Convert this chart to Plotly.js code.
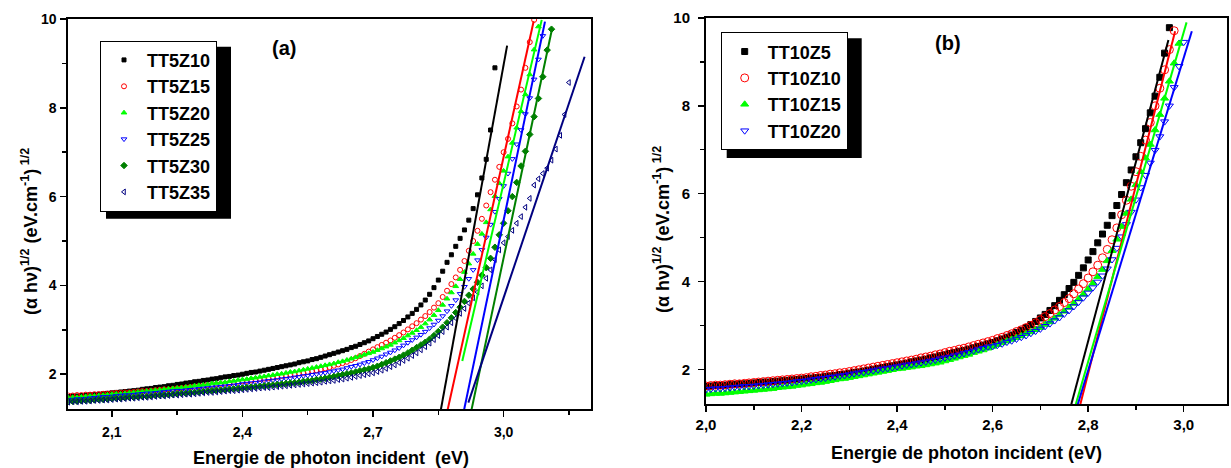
<!DOCTYPE html>
<html><head><meta charset="utf-8">
<script src="https://cdn.plot.ly/plotly-3.0.1.min.js"></script>
<style>html,body{margin:0;padding:0;background:#fff}#chart{width:1231px;height:468px}</style>
</head><body><div id="chart"></div>
<script>
// ---------- DATA ----------
const energyA = [
2.00,2.01,2.02,2.03,2.04,2.05,2.06,2.07,2.08,2.09,
2.10,2.11,2.12,2.13,2.14,2.15,2.16,2.17,2.18,2.19,
2.20,2.21,2.22,2.23,2.24,2.25,2.26,2.27,2.28,2.29,
2.30,2.31,2.32,2.33,2.34,2.35,2.36,2.37,2.38,2.39,
2.40,2.41,2.42,2.43,2.44,2.45,2.46,2.47,2.48,2.49,
2.50,2.51,2.52,2.53,2.54,2.55,2.56,2.57,2.58,2.59,
2.60,2.61,2.62,2.63,2.64,2.65,2.66,2.67,2.68,2.69,
2.70,2.71,2.72,2.73,2.74,2.75,2.76,2.77,2.78,2.79,
2.80,2.81,2.82,2.83,2.84,2.85,2.86,2.87,2.88,2.89,
2.90,2.91,2.92,2.93,2.94,2.95,2.96,2.97,2.98,2.99,
3.00,3.01,3.02,3.03,3.04,3.05,3.06,3.07,3.08,3.09,
3.10,3.11,3.12,3.13,3.14,3.15];

const energyB = [
2.00,2.01,2.02,2.03,2.04,2.05,2.06,2.07,2.08,2.09,
2.10,2.11,2.12,2.13,2.14,2.15,2.16,2.17,2.18,2.19,
2.20,2.21,2.22,2.23,2.24,2.25,2.26,2.27,2.28,2.29,
2.30,2.31,2.32,2.33,2.34,2.35,2.36,2.37,2.38,2.39,
2.40,2.41,2.42,2.43,2.44,2.45,2.46,2.47,2.48,2.49,
2.50,2.51,2.52,2.53,2.54,2.55,2.56,2.57,2.58,2.59,
2.60,2.61,2.62,2.63,2.64,2.65,2.66,2.67,2.68,2.69,
2.70,2.71,2.72,2.73,2.74,2.75,2.76,2.77,2.78,2.79,
2.80,2.81,2.82,2.83,2.84,2.85,2.86,2.87,2.88,2.89,
2.90,2.91,2.92,2.93,2.94,2.95,2.96,2.97,2.98,2.99,
3.00];

// panel (a) series
const y_TT5Z10 = [
1.50,1.51,1.51,1.52,1.53,1.54,1.54,1.55,1.56,1.57,
1.58,1.59,1.60,1.61,1.62,1.63,1.64,1.66,1.67,1.68,
1.70,1.71,1.72,1.74,1.75,1.77,1.78,1.80,1.81,1.83,
1.84,1.86,1.87,1.89,1.90,1.92,1.94,1.95,1.97,1.98,
2.00,2.02,2.04,2.05,2.07,2.09,2.11,2.13,2.15,2.17,
2.19,2.21,2.23,2.26,2.28,2.30,2.33,2.35,2.38,2.41,
2.44,2.47,2.50,2.53,2.56,2.60,2.63,2.67,2.71,2.75,
2.80,2.85,2.90,2.95,3.01,3.07,3.14,3.21,3.29,3.37,
3.46,3.56,3.67,3.80,3.95,4.12,4.32,4.52,4.69,4.88,
5.06,5.25,5.47,5.73,6.04,6.42,6.84,7.50,8.90];
const y_TT5Z15 = [
1.52,1.52,1.53,1.53,1.54,1.54,1.55,1.55,1.56,1.56,
1.57,1.58,1.58,1.59,1.59,1.60,1.61,1.62,1.62,1.63,
1.64,1.65,1.66,1.66,1.67,1.68,1.69,1.70,1.71,1.72,
1.73,1.74,1.75,1.76,1.77,1.78,1.79,1.80,1.82,1.83,
1.84,1.85,1.86,1.88,1.89,1.90,1.91,1.93,1.94,1.96,
1.97,1.99,2.00,2.02,2.03,2.05,2.07,2.09,2.11,2.13,
2.16,2.19,2.22,2.25,2.28,2.32,2.36,2.41,2.46,2.51,
2.56,2.61,2.66,2.71,2.76,2.82,2.88,2.94,3.01,3.08,
3.15,3.23,3.31,3.40,3.50,3.60,3.74,3.88,4.03,4.18,
4.35,4.55,4.78,5.00,5.23,5.50,5.80,6.10,6.38,6.67,
7.00,7.30,7.65,8.03,8.41,8.90,9.48,9.98];
const y_TT5Z20 = [
1.47,1.48,1.48,1.49,1.50,1.51,1.51,1.52,1.53,1.54,
1.55,1.56,1.56,1.57,1.58,1.59,1.60,1.61,1.62,1.63,
1.64,1.65,1.66,1.67,1.68,1.69,1.70,1.71,1.72,1.74,
1.75,1.76,1.77,1.79,1.80,1.81,1.82,1.84,1.85,1.87,
1.88,1.89,1.91,1.92,1.94,1.95,1.97,1.98,2.00,2.01,
2.03,2.05,2.06,2.08,2.10,2.12,2.14,2.16,2.18,2.20,
2.22,2.24,2.27,2.29,2.32,2.35,2.38,2.41,2.44,2.47,
2.50,2.54,2.58,2.62,2.66,2.71,2.76,2.81,2.87,2.93,
2.99,3.06,3.14,3.23,3.33,3.44,3.56,3.70,3.84,3.98,
4.14,4.30,4.49,4.71,4.93,5.16,5.42,5.71,6.01,6.30,
6.58,6.90,7.21,7.55,7.92,8.30,8.75,9.31,9.83];
const y_TT5Z25 = [
1.42,1.43,1.44,1.44,1.45,1.46,1.47,1.48,1.49,1.49,
1.50,1.51,1.52,1.53,1.53,1.54,1.55,1.56,1.57,1.57,
1.58,1.59,1.60,1.61,1.62,1.63,1.63,1.64,1.65,1.66,
1.67,1.68,1.69,1.70,1.71,1.72,1.73,1.74,1.75,1.76,
1.78,1.79,1.80,1.81,1.82,1.84,1.85,1.86,1.87,1.89,
1.90,1.91,1.93,1.94,1.96,1.97,1.99,2.00,2.02,2.03,
2.05,2.07,2.09,2.11,2.14,2.17,2.19,2.22,2.25,2.28,
2.32,2.36,2.40,2.45,2.49,2.54,2.59,2.65,2.71,2.77,
2.83,2.89,2.96,3.04,3.12,3.21,3.31,3.42,3.54,3.67,
3.81,3.97,4.15,4.35,4.57,4.80,5.08,5.37,5.66,5.95,
6.24,6.52,6.85,7.18,7.50,7.86,8.22,8.64,9.09,9.62];
const y_TT5Z30 = [
1.38,1.39,1.39,1.40,1.41,1.41,1.42,1.43,1.43,1.44,
1.45,1.46,1.46,1.47,1.48,1.48,1.49,1.50,1.50,1.51,
1.52,1.53,1.53,1.54,1.55,1.56,1.57,1.57,1.58,1.59,
1.60,1.61,1.62,1.63,1.64,1.64,1.65,1.66,1.67,1.68,
1.69,1.70,1.71,1.72,1.73,1.74,1.75,1.76,1.77,1.78,
1.79,1.80,1.81,1.82,1.84,1.85,1.86,1.88,1.89,1.91,
1.93,1.95,1.97,1.99,2.01,2.03,2.05,2.08,2.10,2.12,
2.15,2.18,2.22,2.26,2.30,2.34,2.38,2.43,2.48,2.54,
2.60,2.66,2.72,2.79,2.87,2.96,3.06,3.16,3.27,3.39,
3.51,3.64,3.78,3.92,4.07,4.23,4.40,4.61,4.86,5.14,
5.40,5.68,6.00,6.32,6.69,7.02,7.40,7.80,8.21,8.70,
9.30,9.77];
const y_TT5Z35 = [
1.37,1.38,1.38,1.39,1.39,1.40,1.41,1.41,1.42,1.42,
1.43,1.44,1.44,1.45,1.46,1.46,1.47,1.48,1.48,1.49,
1.50,1.51,1.51,1.52,1.53,1.53,1.54,1.55,1.55,1.56,
1.57,1.58,1.59,1.59,1.60,1.61,1.62,1.63,1.63,1.64,
1.65,1.66,1.67,1.68,1.69,1.70,1.70,1.71,1.72,1.73,
1.74,1.75,1.76,1.77,1.78,1.79,1.80,1.81,1.82,1.84,
1.85,1.86,1.88,1.89,1.91,1.93,1.95,1.97,1.99,2.01,
2.03,2.06,2.09,2.13,2.17,2.21,2.26,2.31,2.36,2.42,
2.48,2.55,2.62,2.70,2.78,2.87,2.96,3.06,3.16,3.26,
3.37,3.48,3.60,3.72,3.85,3.99,4.16,4.35,4.58,4.80,
4.96,5.10,5.24,5.40,5.55,5.76,5.96,6.26,6.40,6.52,
6.64,6.82,7.07,7.38,7.85,8.57];

// panel (b) series
const y_TT10Z5 = [
1.61,1.62,1.63,1.63,1.64,1.65,1.66,1.67,1.67,1.68,
1.69,1.70,1.71,1.71,1.72,1.73,1.74,1.75,1.76,1.77,
1.78,1.79,1.80,1.81,1.82,1.84,1.85,1.86,1.88,1.89,
1.91,1.93,1.94,1.96,1.98,2.00,2.02,2.04,2.06,2.08,
2.10,2.12,2.14,2.17,2.19,2.21,2.23,2.26,2.28,2.31,
2.33,2.36,2.38,2.41,2.43,2.46,2.49,2.52,2.55,2.58,
2.61,2.65,2.69,2.73,2.78,2.84,2.89,2.95,3.02,3.09,
3.17,3.25,3.34,3.45,3.57,3.70,3.84,3.98,4.14,4.31,
4.49,4.68,4.88,5.08,5.28,5.50,5.73,5.98,6.25,6.54,
6.84,7.16,7.48,7.84,8.22,8.65,9.20,9.78];
const y_TT10Z10 = [
1.62,1.63,1.64,1.64,1.65,1.66,1.67,1.67,1.68,1.69,
1.70,1.71,1.72,1.73,1.74,1.75,1.76,1.77,1.78,1.79,
1.80,1.81,1.83,1.84,1.86,1.87,1.89,1.90,1.92,1.93,
1.95,1.97,1.99,2.01,2.03,2.05,2.07,2.09,2.11,2.13,
2.15,2.17,2.19,2.21,2.23,2.26,2.28,2.30,2.33,2.35,
2.38,2.41,2.43,2.46,2.48,2.51,2.54,2.57,2.60,2.63,
2.66,2.70,2.73,2.77,2.81,2.86,2.90,2.95,3.00,3.06,
3.13,3.20,3.27,3.35,3.43,3.52,3.61,3.72,3.83,3.95,
4.08,4.22,4.37,4.54,4.73,4.95,5.22,5.52,5.85,6.17,
6.50,6.85,7.22,7.62,8.00,8.40,8.82,9.28,9.71];
const y_TT10Z15 = [
1.43,1.44,1.45,1.45,1.46,1.47,1.48,1.49,1.50,1.51,
1.52,1.53,1.54,1.55,1.56,1.58,1.59,1.60,1.61,1.63,
1.64,1.66,1.67,1.69,1.70,1.72,1.74,1.76,1.78,1.79,
1.81,1.83,1.85,1.87,1.89,1.91,1.93,1.95,1.97,1.99,
2.01,2.02,2.04,2.05,2.07,2.08,2.10,2.12,2.14,2.16,
2.19,2.22,2.25,2.28,2.31,2.34,2.38,2.41,2.44,2.48,
2.52,2.56,2.60,2.64,2.68,2.72,2.76,2.81,2.85,2.90,
2.95,3.02,3.08,3.16,3.24,3.32,3.41,3.50,3.60,3.71,
3.83,3.96,4.11,4.27,4.47,4.70,4.96,5.25,5.55,5.87,
6.20,6.50,6.81,7.12,7.45,7.80,8.17,8.56,8.97,9.42];
const y_TT10Z20 = [
1.54,1.55,1.56,1.56,1.57,1.58,1.59,1.60,1.61,1.61,
1.62,1.63,1.64,1.65,1.66,1.67,1.68,1.69,1.70,1.72,
1.73,1.74,1.76,1.77,1.79,1.80,1.82,1.83,1.85,1.86,
1.88,1.90,1.92,1.93,1.95,1.97,1.99,2.01,2.02,2.04,
2.06,2.08,2.10,2.11,2.13,2.15,2.17,2.19,2.21,2.24,
2.26,2.28,2.31,2.33,2.36,2.39,2.42,2.45,2.48,2.51,
2.52,2.55,2.58,2.62,2.65,2.69,2.73,2.77,2.82,2.87,
2.92,2.98,3.04,3.11,3.18,3.26,3.34,3.43,3.53,3.63,
3.74,3.86,3.99,4.13,4.29,4.50,4.76,5.02,5.30,5.58,
5.86,6.14,6.42,6.70,6.99,7.30,7.64,8.00,8.42,8.90,
9.45];

// linear fit segments (end points)
const fitE_TT5Z10 = [2.853, 3.008], fitY_TT5Z10 = [1.05, 9.40];
const fitE_TT5Z15 = [2.868, 3.069], fitY_TT5Z15 = [1.05, 9.95];
const fitE_TT5Z20 = [2.905, 3.0875], fitY_TT5Z20 = [2.30, 9.98];
const fitE_TT5Z25 = [2.906, 3.095], fitY_TT5Z25 = [1.05, 9.94];
const fitE_TT5Z30 = [2.923, 3.111], fitY_TT5Z30 = [1.05, 9.77];
const fitE_TT5Z35 = [2.919, 3.186], fitY_TT5Z35 = [1.36, 9.15];
const fitE_TT10Z5  = [2.761, 2.968], fitY_TT10Z5  = [1.05, 9.50];
const fitE_TT10Z10 = [2.780, 2.982], fitY_TT10Z10 = [1.05, 9.70];
const fitE_TT10Z15 = [2.770, 3.006], fitY_TT10Z15 = [1.05, 9.90];
const fitE_TT10Z20 = [2.774, 3.017], fitY_TT10Z20 = [1.05, 9.70];

const namesA = ['TT5Z10','TT5Z15','TT5Z20','TT5Z25','TT5Z30','TT5Z35'];
const namesB = ['TT10Z5','TT10Z10','TT10Z15','TT10Z20'];
const xTicksA = [2.1, 2.4, 2.7, 3.0];
const xTicksB = [2.0, 2.2, 2.4, 2.6, 2.8, 3.0];
const yTicks = [2, 4, 6, 8, 10];

// ---------- STYLE ----------
const FONT = 'Liberation Sans, Arial, sans-serif';
const W = 1231, H = 468;
const seriesA = [
  {y: y_TT5Z10, fx: fitE_TT5Z10, fy: fitY_TT5Z10, color: '#000000', symbol: 'square', size: 4},
  {y: y_TT5Z15, fx: fitE_TT5Z15, fy: fitY_TT5Z15, color: '#ff0000', symbol: 'circle-open', size: 5},
  {y: y_TT5Z20, fx: fitE_TT5Z20, fy: fitY_TT5Z20, color: '#00ff00', symbol: 'triangle-up', size: 5},
  {y: y_TT5Z25, fx: fitE_TT5Z25, fy: fitY_TT5Z25, color: '#0000ff', symbol: 'triangle-down-open', size: 5},
  {y: y_TT5Z30, fx: fitE_TT5Z30, fy: fitY_TT5Z30, color: '#008000', symbol: 'diamond', size: 5},
  {y: y_TT5Z35, fx: fitE_TT5Z35, fy: fitY_TT5Z35, color: '#000080', symbol: 'triangle-left-open', size: 5}
];
const seriesB = [
  {y: y_TT10Z5,  fx: fitE_TT10Z5,  fy: fitY_TT10Z5,  color: '#000000', symbol: 'square', size: 6},
  {y: y_TT10Z10, fx: fitE_TT10Z10, fy: fitY_TT10Z10, color: '#ff0000', symbol: 'circle-open', size: 8},
  {y: y_TT10Z15, fx: fitE_TT10Z15, fy: fitY_TT10Z15, color: '#00ff00', symbol: 'triangle-up', size: 7},
  {y: y_TT10Z20, fx: fitE_TT10Z20, fy: fitY_TT10Z20, color: '#0000ff', symbol: 'triangle-down-open', size: 7}
];

const traces = [];
function addPanel(series, names, energy, xa, ya, leg) {
  series.forEach((s, i) => {
    traces.push({
      type: 'scatter', mode: 'markers', name: names[i],
      x: energy.slice(0, s.y.length), y: s.y, xaxis: xa, yaxis: ya, legend: leg,
      marker: {symbol: s.symbol, size: s.size, color: s.color, line: {color: s.color, width: 1}},
      hoverinfo: 'skip'
    });
  });
  series.forEach((s, i) => {
    traces.push({
      type: 'scatter', mode: 'lines', name: names[i] + ' fit', showlegend: false,
      x: s.fx, y: s.fy, xaxis: xa, yaxis: ya,
      line: {color: s.color, width: 2}, hoverinfo: 'skip'
    });
  });
}
addPanel(seriesA, namesA, energyA, 'x', 'y', 'legend');
addPanel(seriesB, namesB, energyB, 'x2', 'y2', 'legend2');

function tf(size) { return {family: FONT, size: size, color: '#000', weight: 'bold'}; }
function mainX(domain, range, tickvals, minorDt, minor0, fsize, standoff) {
  return {domain, range, showline: true, linewidth: 2, linecolor: '#000', mirror: true,
    showgrid: false, zeroline: false, ticks: 'outside', ticklen: 6, tickwidth: 1.5, tickcolor: '#000',
    tickvals, tickformat: '.1f', tickfont: tf(fsize), ticklabelstandoff: standoff, fixedrange: true,
    minor: {ticks: 'outside', ticklen: 4, tickwidth: 1.5, tickcolor: '#000', dtick: minorDt, tick0: minor0, showgrid: false}};
}
function mainY(domain, fsize, standoff) {
  return {domain, range: [1.21, 10], showline: true, linewidth: 2, linecolor: '#000', mirror: true,
    showgrid: false, zeroline: false, ticks: 'outside', ticklen: 6, tickwidth: 1.5, tickcolor: '#000',
    tickvals: yTicks, tickfont: tf(fsize), ticklabelstandoff: standoff, fixedrange: true,
    minor: {ticks: 'outside', ticklen: 4, tickwidth: 1.5, tickcolor: '#000', dtick: 1, tick0: 0, showgrid: false}};
}
function overX(over, anchor, range, tickvals, minorDt, minor0) {
  return {overlaying: over, anchor, side: 'top', range, showline: false, showgrid: false, zeroline: false,
    ticks: 'inside', ticklen: 6, tickwidth: 1.5, tickcolor: '#000', tickvals, showticklabels: false, fixedrange: true,
    minor: {ticks: 'inside', ticklen: 4, tickwidth: 1.5, tickcolor: '#000', dtick: minorDt, tick0: minor0, showgrid: false}};
}
function overY(over, anchor) {
  return {overlaying: over, anchor, side: 'right', range: [1.21, 10], showline: false, showgrid: false, zeroline: false,
    ticks: 'inside', ticklen: 6, tickwidth: 1.5, tickcolor: '#000', tickvals: yTicks, showticklabels: false, fixedrange: true,
    minor: {ticks: 'inside', ticklen: 4, tickwidth: 1.5, tickcolor: '#000', dtick: 1, tick0: 0, showgrid: false}};
}

const xa = mainX([68.3 / W, 590.7 / W], [2.0, 3.2], xTicksA, 0.15, 2.1, 14, 3); xa.anchor = 'y';
const ya = mainY([(H - 409.3) / H, (H - 19) / H], 14, 1); ya.anchor = 'x';
const xb = mainX([706 / W, 1226.7 / W], [2.0, 3.09], xTicksB, 0.1, 2.0, 15, 0); xb.anchor = 'y2';
const yb = mainY([(H - 404) / H, (H - 18) / H], 15, 5); yb.anchor = 'x2';

const legendCommon = {bgcolor: '#fff', bordercolor: '#000', borderwidth: 1, xanchor: 'left', yanchor: 'top',
  font: tf(18), itemwidth: 36, tracegroupgap: 0, itemsizing: 'trace'};

const titleFont = tf(18);
const yTitle = '(\u03b1 h\u03bd)<sup>1/2</sup> (eV.cm<sup>-1</sup>)<sup> 1/2</sup>';
function ann(text, px, py, font, angle) {
  return {text, x: px / W, y: 1 - py / H, xref: 'paper', yref: 'paper', showarrow: false,
    xanchor: 'center', yanchor: 'middle', font, textangle: angle || 0};
}
const annotations = [
  ann('Energie de photon incident  (eV)', 331, 458, titleFont),
  ann('Energie de photon incident (eV)', 966, 453, titleFont),
  ann(yTitle, 29, 232, titleFont, -90),
  ann(yTitle, 661, 230, titleFont, -90),
  ann('(a)', 284, 48, tf(20)),
  ann('(b)', 948, 42.5, tf(20))
];

// legend drop shadows (paper pixel boxes)
function pxRect(x0, y0, x1, y1) {
  return {type: 'rect', xref: 'paper', yref: 'paper', layer: 'above',
    x0: x0 / W, x1: x1 / W, y0: 1 - y1 / H, y1: 1 - y0 / H, fillcolor: '#000', line: {width: 0}};
}
const shapes = [pxRect(106, 46.7, 231, 218.7), pxRect(726.7, 38.3, 861.7, 158)];

const layout = {
  width: W, height: H, margin: {l: 0, r: 0, t: 0, b: 0},
  paper_bgcolor: '#fff', plot_bgcolor: '#fff', separators: ', ',
  font: {family: FONT, color: '#000'}, showlegend: true, hovermode: false,
  xaxis: xa, yaxis: ya, xaxis2: xb, yaxis2: yb,
  xaxis3: overX('x', 'y', [2.0, 3.2], xTicksA, 0.15, 2.1),
  yaxis3: overY('y', 'x'),
  xaxis4: overX('x2', 'y2', [2.0, 3.09], xTicksB, 0.1, 2.0),
  yaxis4: overY('y2', 'x2'),
  legend: Object.assign({}, legendCommon, {x: 100 / W, y: 1 - 40.7 / H}),
  legend2: Object.assign({}, legendCommon, {x: 720.7 / W, y: 1 - 32.3 / H}),
  annotations, shapes
};

Plotly.newPlot('chart', traces, layout, {staticPlot: true, displayModeBar: false});
</script>
</body></html>
